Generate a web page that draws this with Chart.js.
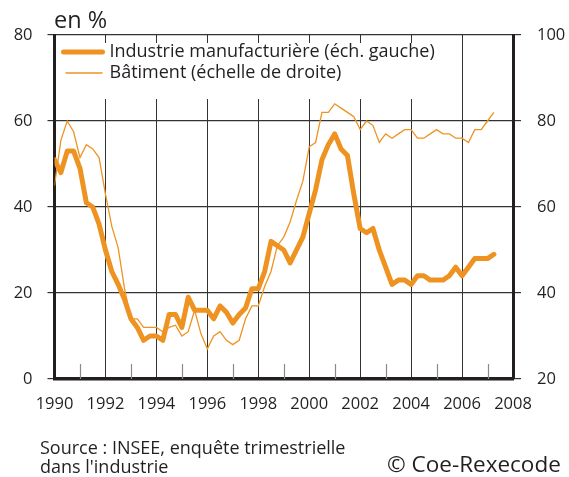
<!DOCTYPE html>
<html>
<head>
<meta charset="utf-8">
<script src="https://cdn.jsdelivr.net/npm/chart.js@4"></script>
<style>
  html, body { margin: 0; padding: 0; background: #fff; }
  #wrap { position: relative; width: 569px; height: 477px; font-family: "Open Sans", sans-serif; color: #231f20; }
  #chart { position: absolute; left: 0; top: 0; }
  .unit { position: absolute; left: 54px; top: 3px; font-size: 23.5px; }
  .source { position: absolute; left: 40px; top: 438px; font-size: 18px; line-height: 18.5px; }
  .copy { position: absolute; left: 387px; top: 448px; font-size: 22.5px; }
</style>
</head>
<body>
<div id="wrap">
  <canvas id="chart" width="569" height="477"></canvas>
  <div class="unit">en %</div>
  <div class="source">Source : INSEE, enquête trimestrielle<br>dans l'industrie</div>
  <div class="copy">© Coe-Rexecode</div>
</div>
<script>
/* Quarterly series, 1990 Q1 -> 2007 Q2 */
const START_YEAR = 1990;

// left scale, %
const industrie = [
  51, 48, 53, 53,
  49, 41, 40, 36,
  30, 25, 22, 18.5,
  14, 12, 9, 10,
  10, 9, 15, 15,
  12, 19, 16, 16,
  16, 14, 17, 15.5,
  13, 15, 16.5, 21,
  21, 25, 32, 31,
  30, 27, 30, 33,
  38.5, 44, 51, 54.5,
  57, 53.5, 52, 43,
  35, 34, 35, 30,
  26, 22, 23, 23,
  22, 24, 24, 23,
  23, 23, 24, 26,
  24, 26, 28, 28,
  28, 29,
];

// right scale, %
const batiment = [
  65, 75.5, 80, 77.5,
  71.5, 74.5, 73.5, 71.5,
  63, 55.5, 50.5, 41,
  34, 34, 32, 32,
  32, 31, 32, 32.5,
  30, 31, 36, 30.5,
  27, 30, 31, 29,
  28, 29, 34, 37,
  37, 41.5, 45, 51,
  53, 56.5, 61.5, 66,
  74, 75, 82, 82,
  84, 83, 82, 81,
  78, 80, 79, 75,
  77, 76, 77, 78,
  78, 76, 76, 77,
  78, 77, 77, 76,
  76, 75, 78, 78,
  80, 82,
];

const seriesLabels = ['Industrie manufacturière (éch. gauche)', 'Bâtiment (échelle de droite)'];
const leftTicks = [0, 20, 40, 60, 80];
const rightTicks = [20, 40, 60, 80, 100];
const yearMin = 1990, yearMax = 2008;

const quarterX = industrie.map((_, i) => START_YEAR + i / 4);

const ORANGE = '#ee9322';
const INK = '#231f20';
const GRID = '#333333';
const FONT = { family: 'Open Sans', size: 16.5 };
const LEGEND_FONT = '18px "Open Sans"';

/* ── short ticks for odd years, inside the plot at the bottom ───────── */
const oddYearTicks = {
  id: 'oddYearTicks',
  beforeDatasetsDraw(chart) {
    const { ctx, chartArea, scales } = chart;
    ctx.save();
    ctx.strokeStyle = '#8a8a8a';
    ctx.lineWidth = 1.2;
    for (let yr = yearMin + 1; yr < yearMax; yr += 2) {
      const px = Math.round(scales.x.getPixelForValue(yr)) + 0.5;
      ctx.beginPath();
      ctx.moveTo(px, chartArea.bottom - 15);
      ctx.lineTo(px, chartArea.bottom);
      ctx.stroke();
    }
    ctx.restore();
  },
};

/* ── legend box drawn inside the plot ───────────────────────────────── */
const insideLegend = {
  id: 'insideLegend',
  beforeDatasetsDraw(chart) {
    const { ctx, chartArea } = chart;
    ctx.save();
    ctx.fillStyle = '#fff';
    ctx.fillRect(chartArea.left + 2, chartArea.top + 8, 392, 56);
    ctx.restore();
  },
  afterDatasetsDraw(chart) {
    const { ctx, chartArea } = chart;
    const x0 = chartArea.left;
    ctx.save();
    chart.data.datasets.forEach((ds, i) => {
      const y = chartArea.top + 17 + i * 21;
      ctx.strokeStyle = ds.borderColor;
      ctx.lineWidth = ds.borderWidth;
      ctx.lineCap = i === 0 ? 'round' : 'butt';
      ctx.beginPath();
      ctx.moveTo(x0 + (i === 0 ? 9 : 11), y);
      ctx.lineTo(x0 + 48, y);
      ctx.stroke();
      ctx.fillStyle = INK;
      ctx.font = LEGEND_FONT;
      ctx.textBaseline = 'middle';
      ctx.fillText(ds.label, x0 + 55, y);
    });
    ctx.restore();
  },
};

new Chart(document.getElementById('chart'), {
  type: 'line',
  data: {
    datasets: [
      {
        label: seriesLabels[0],
        data: industrie.map((v, i) => ({ x: quarterX[i], y: v })),
        borderColor: ORANGE,
        borderWidth: 5,
        borderJoinStyle: 'round',
        borderCapStyle: 'round',
        pointRadius: 0,
        tension: 0,
        yAxisID: 'y',
      },
      {
        label: seriesLabels[1],
        data: batiment.map((v, i) => ({ x: quarterX[i], y: v })),
        borderColor: ORANGE,
        borderWidth: 1.3,
        pointRadius: 0,
        tension: 0,
        yAxisID: 'y2',
      },
    ],
  },
  options: {
    responsive: false,
    animation: false,
    layout: { padding: { top: 35, left: 0, right: 0, bottom: 0 } },
    plugins: { legend: { display: false }, tooltip: { enabled: false } },
    scales: {
      x: {
        type: 'linear',
        min: yearMin,
        max: yearMax,
        ticks: { stepSize: 2, padding: 15, color: INK, font: FONT, callback: v => String(v), maxRotation: 0 },
        grid: { color: GRID, lineWidth: 1, drawTicks: false },
        border: { color: INK, width: 3.5 },
        afterFit: s => { s.height = 98; },
      },
      y: {
        position: 'left',
        min: leftTicks[0],
        max: leftTicks[leftTicks.length - 1],
        afterBuildTicks: s => { s.ticks = leftTicks.map(v => ({ value: v })); },
        ticks: { padding: 15, color: INK, font: FONT },
        grid: { color: GRID, lineWidth: 1.2, tickLength: 7 },
        border: { color: INK, width: 3 },
        afterFit: s => { s.width = 54.5; },
      },
      y2: {
        position: 'right',
        min: rightTicks[0],
        max: rightTicks[rightTicks.length - 1],
        afterBuildTicks: s => { s.ticks = rightTicks.map(v => ({ value: v })); },
        ticks: { padding: 16, color: INK, font: FONT },
        grid: { drawOnChartArea: false, color: GRID, lineWidth: 1.2, tickLength: 8 },
        border: { color: INK, width: 3 },
        afterFit: s => { s.width = 56; },
      },
    },
  },
  plugins: [oddYearTicks, insideLegend],
});
</script>
</body>
</html>
